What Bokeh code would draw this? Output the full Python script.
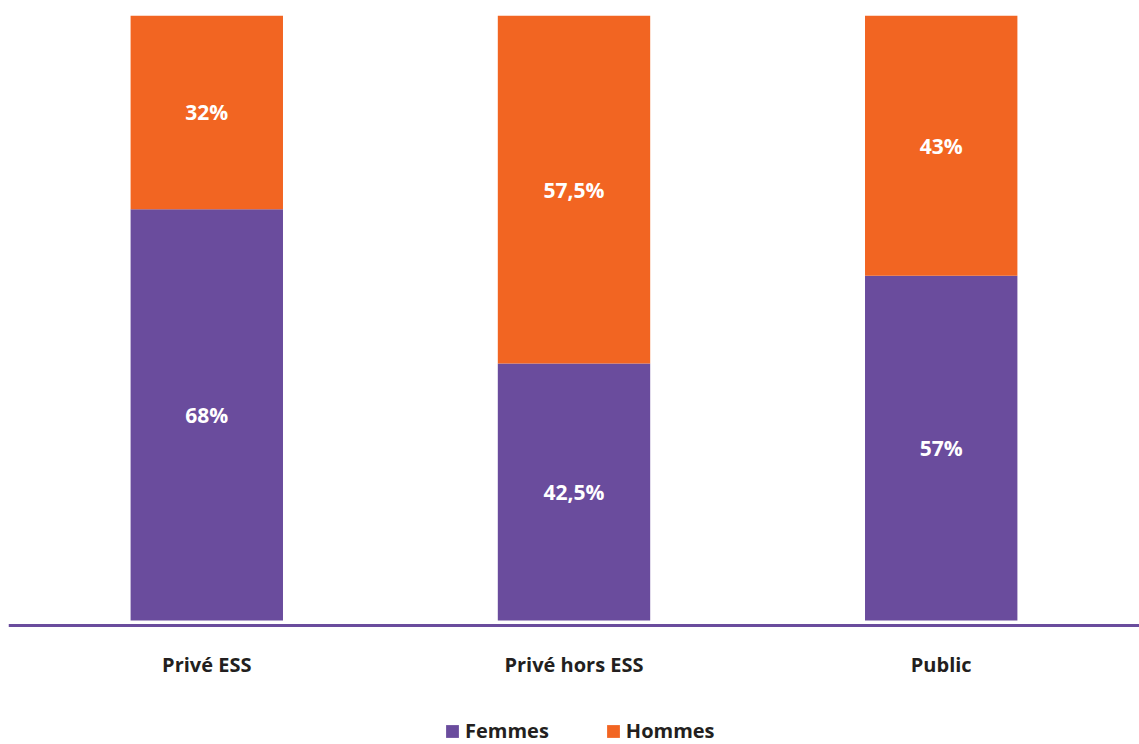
from bokeh.plotting import figure
from bokeh.models import ColumnDataSource, FactorRange, Range1d, Legend, LegendItem, LabelSet
from bokeh.core.properties import value
from bokeh.embed import file_html
from bokeh.resources import INLINE

categories = ["Privé ESS", "Privé hors ESS", "Public"]
femmes = [68, 42.5, 57]
hommes = [32, 57.5, 43]
femmes_labels = ["68%", "42,5%", "57%"]
hommes_labels = ["32%", "57,5%", "43%"]

PURPLE = "#6A4C9D"
ORANGE = "#F26522"
DARK = "#231F20"
FONT = "Open Sans"

src = ColumnDataSource(dict(
    cat=categories,
    femmes=femmes,
    hommes=hommes,
    f_mid=[f / 2 for f in femmes],
    h_mid=[f + h / 2 for f, h in zip(femmes, hommes)],
    f_lab=femmes_labels,
    h_lab=hommes_labels,
))

x_range = FactorRange(factors=categories, range_padding=0.04, range_padding_units="absolute")
p = figure(width=1139, height=744, x_range=x_range, y_range=Range1d(-20.5, 100.2),
           output_backend="svg", toolbar_location=None,
           min_border_left=8, min_border_right=0, min_border_top=14, min_border_bottom=0)
p.outline_line_color = None
p.background_fill_color = "white"
p.border_fill_color = "white"
p.grid.visible = False
p.yaxis.visible = False

rf = p.vbar_stack(["femmes", "hommes"], x="cat", width=0.415, source=src,
                  color=[PURPLE, ORANGE], line_color=None)

xa = p.xaxis[0]
xa.fixed_location = -0.83
xa.axis_line_color = PURPLE
xa.axis_line_width = 3
xa.major_tick_line_color = None
xa.minor_tick_line_color = None
xa.major_tick_out = 0
xa.major_tick_in = 0
xa.major_label_standoff = 25
xa.major_label_text_font = FONT
xa.major_label_text_font_style = "bold"
xa.major_label_text_font_size = "20px"
xa.major_label_text_color = DARK

for y, t in (("f_mid", "f_lab"), ("h_mid", "h_lab")):
    p.add_layout(LabelSet(x="cat", y=y, text=t, source=src, text_align="center",
                          text_baseline="middle", text_color="white",
                          text_font=value(FONT), text_font_style="bold",
                          text_font_size="21px"))

legend = Legend(items=[LegendItem(label="Femmes", renderers=[rf[0]]),
                       LegendItem(label="Hommes", renderers=[rf[1]])],
                orientation="horizontal", location=(436, 0),
                margin=0, padding=0, spacing=56, glyph_width=16, glyph_height=16,
                label_height=16, label_standoff=5,
                label_text_font=FONT, label_text_font_style="bold",
                label_text_font_size="20px", label_text_color=DARK,
                label_text_baseline="middle",
                border_line_color=None, background_fill_alpha=0)
p.add_layout(legend, "center")

open("out.html", "w").write(file_html(p, INLINE))
